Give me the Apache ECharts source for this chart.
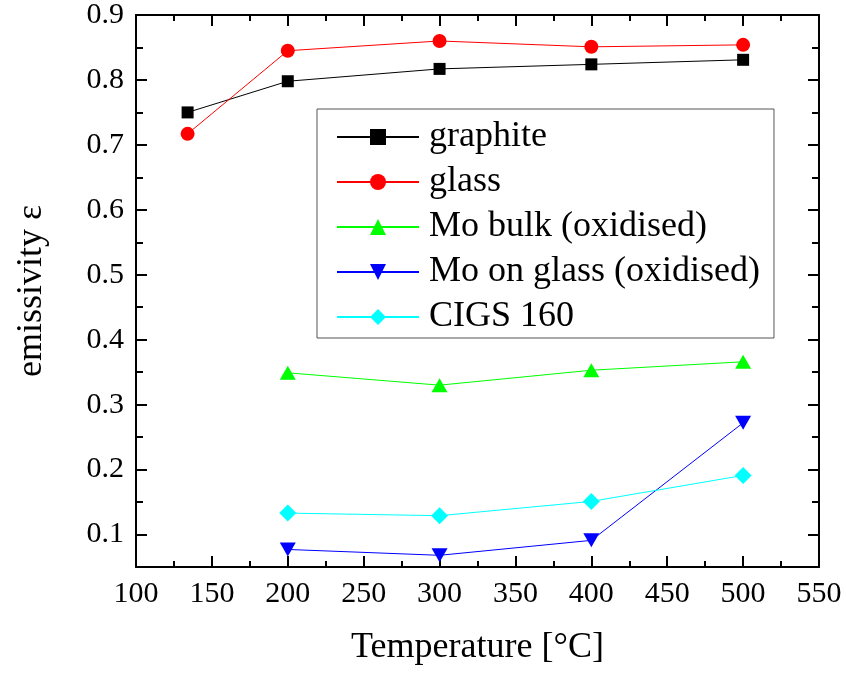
<!DOCTYPE html>
<html>
<head>
<meta charset="utf-8">
<script src="https://cdn.jsdelivr.net/npm/echarts@6/dist/echarts.min.js"></script>
<style>html,body{margin:0;padding:0;background:#fff;}#c{width:846px;height:675px;}</style>
</head>
<body>
<div id="c"></div>
<script>
const temps = [134, 200, 300, 400, 500];
const tempsMo = [200, 300, 400, 500];
const graphite = [0.750, 0.798, 0.817, 0.824, 0.831];
const glass = [0.717, 0.845, 0.860, 0.851, 0.854];
const moBulk = [0.349, 0.330, 0.353, 0.366];
const moGlass = [0.077, 0.068, 0.091, 0.272];
const cigs = [0.133, 0.129, 0.151, 0.191];
const seriesNames = ['graphite', 'glass', 'Mo bulk (oxidised)', 'Mo on glass (oxidised)', 'CIGS 160'];

const FONT = 'Liberation Serif';
function pairs(xs, ys) { return xs.map((x, i) => [x, ys[i]]); }

const chart = echarts.init(document.getElementById('c'));
const axisLine = { show: true, lineStyle: { color: '#000', width: 2 } };
const noLine = { show: false };

chart.setOption({
  backgroundColor: '#fff',
  animation: false,
  grid: [
    { left: 136, right: 27, top: 15, bottom: 108 },
    { left: 136, right: 27, top: 15, bottom: 140.5 }
  ],
  xAxis: [
    {
      type: 'value', gridIndex: 0, position: 'bottom', min: 100, max: 550, interval: 50,
      axisLine: axisLine,
      axisTick: { show: true, inside: true, length: 11, lineStyle: { color: '#000', width: 2 } },
      minorTick: { show: true, splitNumber: 2, length: 6, lineStyle: { color: '#000', width: 2 } },
      splitLine: { show: false },
      axisLabel: { fontFamily: FONT, fontSize: 30, color: '#000', margin: 12 },
      name: 'Temperature [°C]', nameLocation: 'middle', nameGap: 63,
      nameTextStyle: { fontFamily: FONT, fontSize: 36, color: '#000' }
    },
    {
      type: 'value', gridIndex: 0, position: 'top', min: 100, max: 550, interval: 50,
      axisLine: axisLine,
      axisTick: { show: true, inside: true, length: 11, lineStyle: { color: '#000', width: 2 } },
      minorTick: { show: true, splitNumber: 2, length: 6, lineStyle: { color: '#000', width: 2 } },
      splitLine: { show: false },
      axisLabel: { show: false }
    },
    {
      type: 'value', gridIndex: 1, min: 100, max: 550, show: false
    }
  ],
  yAxis: [
    {
      type: 'value', gridIndex: 0, position: 'left', min: 0.05, max: 0.9, interval: 0.05,
      axisLine: axisLine,
      axisTick: { show: true, inside: true, length: 7, lineStyle: { color: '#000', width: 2 } },
      splitLine: { show: false },
      axisLabel: { show: false },
      name: 'emissivity ε', nameLocation: 'middle', nameGap: 86, nameRotate: 90,
      nameTextStyle: { fontFamily: FONT, fontSize: 36, color: '#000' }
    },
    {
      type: 'value', gridIndex: 0, position: 'right', min: 0.05, max: 0.9, interval: 0.05,
      axisLine: axisLine,
      axisTick: { show: true, inside: true, length: 7, lineStyle: { color: '#000', width: 2 } },
      splitLine: { show: false },
      axisLabel: { show: false }
    },
    {
      type: 'value', gridIndex: 1, position: 'left', min: 0.1, max: 0.9, interval: 0.1,
      axisLine: noLine,
      axisTick: { show: true, inside: true, length: 11, lineStyle: { color: '#000', width: 2 } },
      splitLine: { show: false },
      axisLabel: { fontFamily: FONT, fontSize: 30, color: '#000', margin: 12,
        formatter: v => v.toFixed(1) }
    },
    {
      type: 'value', gridIndex: 1, position: 'right', min: 0.1, max: 0.9, interval: 0.1,
      axisLine: noLine,
      axisTick: { show: true, inside: true, length: 11, lineStyle: { color: '#000', width: 2 } },
      splitLine: { show: false },
      axisLabel: { show: false }
    }
  ],
  legend: {
    orient: 'vertical', left: 317, top: 109,
    itemWidth: 82, itemHeight: 20, itemGap: 9,
    padding: [10, 14, 3, 19],
    borderColor: '#555', borderWidth: 1,
    textStyle: { fontFamily: FONT, fontSize: 36, color: '#000', lineHeight: 36, padding: [0, 0, 0, 5] },
    data: seriesNames
  },
  series: [
    {
      name: seriesNames[0], type: 'line', xAxisIndex: 0, yAxisIndex: 0,
      data: pairs(temps, graphite), symbol: 'rect', symbolSize: 12,
      lineStyle: { color: '#000', width: 1 }, itemStyle: { color: '#000' }, color: '#000'
    },
    {
      name: seriesNames[1], type: 'line', xAxisIndex: 0, yAxisIndex: 0,
      data: pairs(temps, glass), symbol: 'circle', symbolSize: 14,
      lineStyle: { color: '#ff0000', width: 1 }, itemStyle: { color: '#ff0000' }, color: '#ff0000'
    },
    {
      name: seriesNames[2], type: 'line', xAxisIndex: 0, yAxisIndex: 0,
      data: pairs(tempsMo, moBulk), symbol: 'triangle', symbolSize: [16, 14],
      lineStyle: { color: '#00ff00', width: 1 }, itemStyle: { color: '#00ff00' }, color: '#00ff00'
    },
    {
      name: seriesNames[3], type: 'line', xAxisIndex: 0, yAxisIndex: 0,
      data: pairs(tempsMo, moGlass), symbol: 'path://M0,0 L16,0 L8,14 Z', symbolSize: [16, 14],
      lineStyle: { color: '#0000ff', width: 1 }, itemStyle: { color: '#0000ff' }, color: '#0000ff'
    },
    {
      name: seriesNames[4], type: 'line', xAxisIndex: 0, yAxisIndex: 0,
      data: pairs(tempsMo, cigs), symbol: 'diamond', symbolSize: 17,
      lineStyle: { color: '#00ffff', width: 1 }, itemStyle: { color: '#00ffff' }, color: '#00ffff'
    }
  ]
});
</script>
</body>
</html>
